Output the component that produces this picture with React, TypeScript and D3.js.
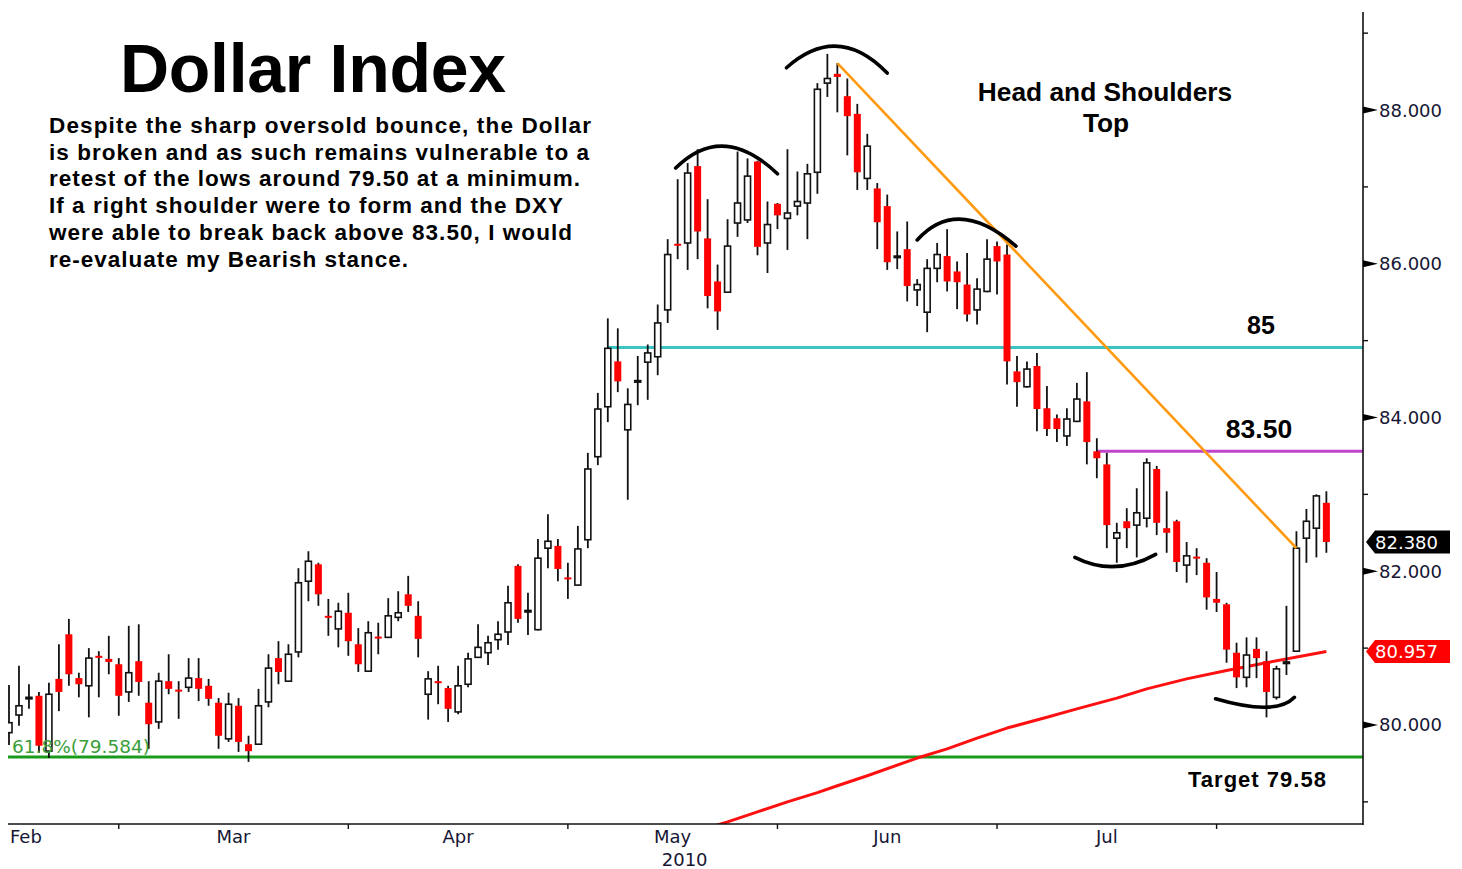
import React from 'react';
import * as d3 from 'd3';

// Dollar Index daily candles, 12 Feb - 17 Aug 2010 (one entry per weekday)
const opens = [
  79.90, 80.13, 80.34, 80.38, 79.66, 80.60, 81.18, 80.61, 80.51, 80.90,
  80.86, 80.79, 80.43, 80.83, 80.29, 80.04, 80.57, 80.46, 80.49, 80.61,
  80.51, 80.29, 79.82, 80.25, 79.75, 79.75, 80.30, 80.87, 80.57, 80.95,
  81.87, 82.09, 81.42, 81.25, 81.46, 81.05, 80.70, 81.15, 81.14, 81.40,
  81.70, 81.42, 80.40, 80.57, 80.48, 80.17, 80.53, 80.88, 80.94, 81.11,
  81.21, 82.07, 81.47, 81.24, 82.30, 82.33, 81.92, 81.82, 82.41, 83.49,
  84.14, 84.73, 83.84, 84.46, 84.72, 84.79, 85.40, 86.26, 86.27, 87.27,
  86.33, 85.77, 85.63, 86.53, 86.57, 87.33, 86.27, 86.78, 86.59, 86.75,
  86.79, 87.19, 88.35, 88.47, 88.18, 87.95, 87.11, 86.98, 86.75, 86.08,
  86.19, 85.66, 85.37, 85.94, 86.10, 85.90, 85.73, 85.40, 85.64, 86.23,
  86.12, 84.60, 84.40, 84.67, 84.12, 83.99, 83.76, 83.95, 84.21, 83.56,
  83.39, 82.43, 82.65, 82.60, 82.69, 83.33, 82.56, 82.65, 82.08, 82.19,
  82.11, 81.64, 81.57, 80.94, 80.62, 80.99, 80.83, 80.36, 80.80, 80.96,
  82.43, 82.56, 82.89,
];
const highs = [
  80.52, 80.77, 80.53, 80.43, 80.55, 81.05, 81.38, 80.68, 81.00, 80.96,
  81.16, 80.87, 81.29, 81.31, 80.57, 80.68, 80.92, 80.57, 80.87, 80.87,
  80.60, 80.35, 80.42, 80.35, 79.86, 80.47, 80.92, 81.09, 81.05, 82.04,
  82.26, 82.11, 81.64, 81.59, 81.72, 81.26, 81.35, 81.33, 81.65, 81.74,
  81.94, 81.61, 80.70, 80.77, 80.51, 80.77, 80.94, 81.31, 81.16, 81.35,
  81.81, 82.09, 81.72, 82.42, 82.74, 82.42, 82.11, 82.59, 83.54, 84.32,
  85.29, 85.16, 84.38, 84.80, 84.95, 85.47, 86.32, 87.10, 87.31, 87.49,
  86.84, 85.99, 86.58, 87.46, 87.37, 87.34, 86.81, 86.79, 87.49, 87.20,
  87.30, 88.35, 88.73, 88.61, 88.41, 88.08, 87.69, 87.05, 86.90, 86.42,
  86.55, 85.80, 86.06, 86.27, 86.45, 86.03, 86.14, 85.81, 86.32, 86.29,
  86.25, 84.80, 84.73, 84.84, 84.41, 84.04, 84.12, 84.45, 84.59, 83.73,
  83.54, 82.63, 82.82, 83.08, 83.47, 83.37, 83.04, 82.67, 82.38, 82.30,
  82.17, 81.99, 81.59, 81.07, 81.14, 81.14, 80.96, 80.77, 81.55, 82.52,
  82.81, 83.00, 83.04,
];
const lows = [
  79.74, 79.99, 80.21, 79.64, 79.57, 80.18, 80.51, 80.36, 80.10, 80.36,
  80.66, 80.12, 80.30, 80.38, 79.69, 79.95, 80.40, 80.08, 80.43, 80.31,
  80.25, 79.69, 79.78, 79.65, 79.52, 79.74, 80.23, 80.53, 80.56, 80.88,
  81.61, 81.55, 81.16, 81.01, 80.90, 80.69, 80.69, 80.92, 81.13, 81.35,
  81.47, 80.88, 80.07, 80.27, 80.04, 80.14, 80.49, 80.87, 80.78, 80.98,
  81.04, 81.33, 81.17, 81.23, 82.04, 81.87, 81.64, 81.81, 82.30, 83.38,
  83.94, 84.33, 82.93, 84.16, 84.23, 84.55, 85.23, 86.06, 85.92, 86.06,
  85.42, 85.14, 85.62, 86.35, 86.53, 86.11, 85.88, 86.45, 86.18, 86.63,
  86.32, 86.91, 88.17, 87.97, 87.41, 86.96, 86.96, 86.19, 85.92, 85.93,
  85.51, 85.45, 85.11, 85.76, 85.64, 85.41, 85.25, 85.21, 85.63, 85.60,
  84.43, 84.14, 84.39, 83.82, 83.76, 83.68, 83.63, 83.94, 83.39, 83.21,
  82.30, 82.11, 82.30, 82.18, 82.57, 82.47, 82.24, 81.99, 81.85, 81.95,
  81.50, 81.47, 80.81, 80.48, 80.49, 80.61, 80.10, 80.33, 80.65, 80.95,
  82.11, 82.18, 82.24,
];
const closes = [
  80.03, 80.25, 80.36, 79.73, 80.40, 80.43, 80.66, 80.53, 80.87, 80.88,
  80.82, 80.38, 80.68, 80.56, 80.01, 80.57, 80.47, 80.45, 80.61, 80.47,
  80.34, 79.86, 80.27, 79.78, 79.66, 80.25, 80.74, 80.69, 80.92, 81.85,
  82.13, 81.70, 81.40, 81.48, 81.09, 80.79, 81.20, 81.13, 81.42, 81.46,
  81.55, 81.12, 80.60, 80.55, 80.21, 80.51, 80.86, 81.01, 81.07, 81.18,
  81.59, 81.38, 81.49, 82.17, 82.39, 82.03, 81.90, 82.29, 83.33, 84.11,
  84.90, 84.47, 84.17, 84.48, 84.84, 85.23, 86.12, 86.24, 87.18, 86.42,
  85.58, 85.38, 86.23, 86.79, 87.14, 86.22, 86.51, 86.63, 86.66, 86.81,
  87.17, 88.27, 88.41, 88.43, 87.92, 87.19, 87.53, 86.54, 86.02, 86.10,
  85.71, 85.73, 85.94, 86.12, 85.77, 85.76, 85.34, 85.67, 86.06, 86.03,
  84.73, 84.46, 84.63, 84.11, 83.85, 83.85, 83.98, 84.24, 83.68, 83.47,
  82.60, 82.50, 82.56, 82.76, 83.41, 82.63, 82.50, 82.12, 82.20, 82.17,
  81.66, 81.59, 80.98, 80.62, 80.91, 80.87, 80.43, 80.73, 80.82, 82.30,
  82.65, 82.98, 82.38,
];

// moving average (red line), read at candle indices
const maIndex = [70, 72, 75, 78, 81, 83, 86, 91, 94, 97, 100, 104, 107, 111, 114, 118, 122, 126, 132];
const maValue = [78.66, 78.74, 78.87, 79.0, 79.12, 79.21, 79.34, 79.57, 79.69, 79.83, 79.96, 80.10, 80.21, 80.35, 80.47, 80.60, 80.71, 80.81, 80.957];

// horizontal levels: 85 line, 83.50 line, 61.8% retracement
const levelValue = [84.91, 83.56, 79.584];
const levelFrom = [60, 109, -1];

// trendline from the head down to the breakout candle
const trendIndex = [83, 129];
const trendValue = [88.61, 82.30];

// head & shoulders arcs: start, apex, end (candle index, price)
const arcIndex = [[66.8, 71.7, 77.0], [77.9, 83.0, 88.0], [91.0, 95.5, 100.9], [106.8, 110.8, 114.9], [120.9, 125.9, 128.8]];
const arcValue = [[87.245, 87.53, 87.17], [88.55, 88.83, 88.48], [86.31, 86.58, 86.23], [82.18, 82.06, 82.22], [80.34, 80.23, 80.36]];

const majorTicks = [80, 82, 84, 86, 88];
const minorTicks = [79, 81, 83, 85, 87, 89];

const noteLines = [
  'Despite the sharp oversold bounce, the Dollar',
  'is broken and as such remains vulnerable to a',
  'retest of the lows around 79.50 at a minimum.',
  'If a right shoulder were to form and the DXY',
  'were able to break back above 83.50, I would',
  're-evaluate my Bearish stance.',
];
const noteWidths = [542, 540, 531, 514, 523, 359];

const W = 1462;
const H = 869;
const plot = { left: 8, right: 1363, top: 12, bottom: 824 };
const levelColors = ['#3cc4c4', '#bf44cc', '#1a9a1a'];
const axisFont = '"DejaVu Sans", Verdana, sans-serif';
const boldFont = '"Liberation Sans", Arial, sans-serif';

export default function App() {
  const x = d3.scaleLinear().domain([-0.1, 135.67]).range([plot.left, plot.right]);
  const y = d3.scaleLinear().domain([78.712, 89.275]).range([plot.bottom, plot.top]);

  const days = d3.timeDay
    .range(new Date(2010, 1, 12), new Date(2010, 7, 18))
    .filter(d => d.getDay() !== 0 && d.getDay() !== 6);
  const monthStarts: number[] = [];
  days.forEach((d, i) => {
    if (i > 0 && d.getMonth() !== days[i - 1].getMonth()) monthStarts.push(i);
  });
  const fmt = d3.timeFormat('%b');

  const maLine = d3.line<number>()
    .x(i => x(maIndex[i]))
    .y(i => y(maValue[i]));

  const arcPath = (k: number) => {
    const [i0, im, i1] = arcIndex[k];
    const [v0, vm, v1] = arcValue[k];
    const x0 = x(i0), y0 = y(v0), xm = x(im), ym = y(vm), x1 = x(i1), y1 = y(v1);
    const cx = 2 * xm - (x0 + x1) / 2;
    const cy = 2 * ym - (y0 + y1) / 2;
    return `M${x0},${y0}Q${cx},${cy} ${x1},${y1}`;
  };

  const lastClose = closes[closes.length - 1];
  const lastMa = maValue[maValue.length - 1];
  const tag = (v: number) => {
    const ty = y(v);
    return `M${plot.right + 3},${ty} L${plot.right + 12},${ty - 11.5} L${plot.right + 87},${ty - 11.5} L${plot.right + 87},${ty + 11.5} L${plot.right + 12},${ty + 11.5} Z`;
  };

  return (
    <svg width={W} height={H} style={{ position: 'absolute', left: 0, top: 0, background: '#fff' }}>
      <defs>
        <clipPath id="plotClip">
          <rect x={plot.left} y={plot.top} width={plot.right - plot.left} height={plot.bottom - plot.top} />
        </clipPath>
      </defs>
      <rect width={W} height={H} fill="#fff" />

      <g clipPath="url(#plotClip)">
        {/* levels */}
        {levelValue.map((v, k) => (
          <line key={k} x1={x(levelFrom[k])} x2={plot.right} y1={y(v)} y2={y(v)}
            stroke={levelColors[k]} strokeWidth={3} />
        ))}
        {/* moving average */}
        <path d={maLine(d3.range(maIndex.length)) || ''} fill="none" stroke="#ff1010" strokeWidth={3}
          strokeLinejoin="round" />

        {/* candles */}
        {opens.map((o, i) => {
          const c = closes[i];
          const cx = x(i);
          const down = c < o;
          const top = y(Math.max(o, c));
          const h = Math.max(y(Math.min(o, c)) - top, down ? 2 : 1.5);
          return (
            <g key={i}>
              <line x1={cx} x2={cx} y1={y(highs[i])} y2={y(lows[i])} stroke="#111" strokeWidth={1.8} />
              {down ? (
                <rect x={cx - 3.5} y={top} width={7} height={h} fill="#ff0000" />
              ) : (
                <rect x={cx - 3} y={top} width={6} height={h} fill="#fff" stroke="#111" strokeWidth={1.6} />
              )}
            </g>
          );
        })}

        {/* trendline */}
        <line x1={x(trendIndex[0])} y1={y(trendValue[0])} x2={x(trendIndex[1])} y2={y(trendValue[1])}
          stroke="#ff9a10" strokeWidth={2.6} />

        {/* pattern arcs */}
        {arcIndex.map((_, k) => (
          <path key={k} d={arcPath(k)} fill="none" stroke="#000" strokeWidth={3.6} strokeLinecap="round" />
        ))}

        <text x={12} y={y(levelValue[2]) - 4} fontFamily={axisFont} fontSize={18.5} fill="#3a9e3a">
          61.8%(79.584)
        </text>
      </g>

      {/* axes */}
      <line x1={plot.left} x2={plot.right} y1={plot.bottom} y2={plot.bottom} stroke="#111" strokeWidth={1.6} />
      <line x1={plot.right} x2={plot.right} y1={plot.top} y2={plot.bottom + 1} stroke="#111" strokeWidth={1.6} />
      {monthStarts.map(i => (
        <line key={i} x1={x(i)} x2={x(i)} y1={plot.bottom} y2={plot.bottom + 5} stroke="#111" strokeWidth={1.4} />
      ))}
      <text x={10} y={843} fontFamily={axisFont} fontSize={18} fill="#161634">{fmt(days[0])}</text>
      {monthStarts.slice(0, -1).map((s, k) => (
        <text key={s} x={x((s + monthStarts[k + 1]) / 2)} y={843} textAnchor="middle"
          fontFamily={axisFont} fontSize={18} fill="#161634">{fmt(days[s])}</text>
      ))}
      <text x={x((monthStarts[2] + monthStarts[3]) / 2) + 12} y={866} textAnchor="middle"
        fontFamily={axisFont} fontSize={18} fill="#161634">2010</text>

      {minorTicks.map(v => (
        <line key={v} x1={plot.right} x2={plot.right + 5} y1={y(v)} y2={y(v)} stroke="#111" strokeWidth={1.4} />
      ))}
      {majorTicks.map(v => (
        <g key={v}>
          <path d={`M${plot.right},${y(v) - 3.5} L${plot.right + 15},${y(v)} L${plot.right},${y(v) + 3.5} Z`} fill="#000" />
          <text x={plot.right + 16} y={y(v) + 6.5} fontFamily={axisFont} fontSize={18} fill="#161634">
            {d3.format('.3f')(v)}
          </text>
        </g>
      ))}

      {/* price tags */}
      <path d={tag(lastClose)} fill="#000" />
      <text x={plot.right + 12} y={y(lastClose) + 6.5} fontFamily={axisFont} fontSize={18} fill="#fff">
        {d3.format('.3f')(lastClose)}
      </text>
      <path d={tag(lastMa)} fill="#ff0000" />
      <text x={plot.right + 12} y={y(lastMa) + 6.5} fontFamily={axisFont} fontSize={18} fill="#fff">
        {d3.format('.3f')(lastMa)}
      </text>

      {/* annotations */}
      <text x={120} y={92} fontFamily={boldFont} fontWeight="bold" fontSize={68} textLength={386} fill="#000">
        Dollar Index
      </text>
      {noteLines.map((t, k) => (
        <text key={k} x={49} y={133 + k * 26.7} fontFamily={boldFont} fontWeight="bold" fontSize={22.5}
          textLength={noteWidths[k]} fill="#000">{t}</text>
      ))}
      <text x={1105} y={101} textAnchor="middle" fontFamily={boldFont} fontWeight="bold" fontSize={26.3} fill="#000">
        Head and Shoulders
      </text>
      <text x={1106} y={132} textAnchor="middle" fontFamily={boldFont} fontWeight="bold" fontSize={26.3} fill="#000">
        Top
      </text>
      <text x={1261} y={y(levelValue[0]) - 14} textAnchor="middle" fontFamily={boldFont} fontWeight="bold" fontSize={25} fill="#000">
        85
      </text>
      <text x={1259} y={y(levelValue[1]) - 13} textAnchor="middle" fontFamily={boldFont} fontWeight="bold" fontSize={26.5} fill="#000">
        83.50
      </text>
      <text x={1188} y={787} fontFamily={boldFont} fontWeight="bold" fontSize={22} textLength={138} fill="#000">
        Target 79.58
      </text>
    </svg>
  );
}
